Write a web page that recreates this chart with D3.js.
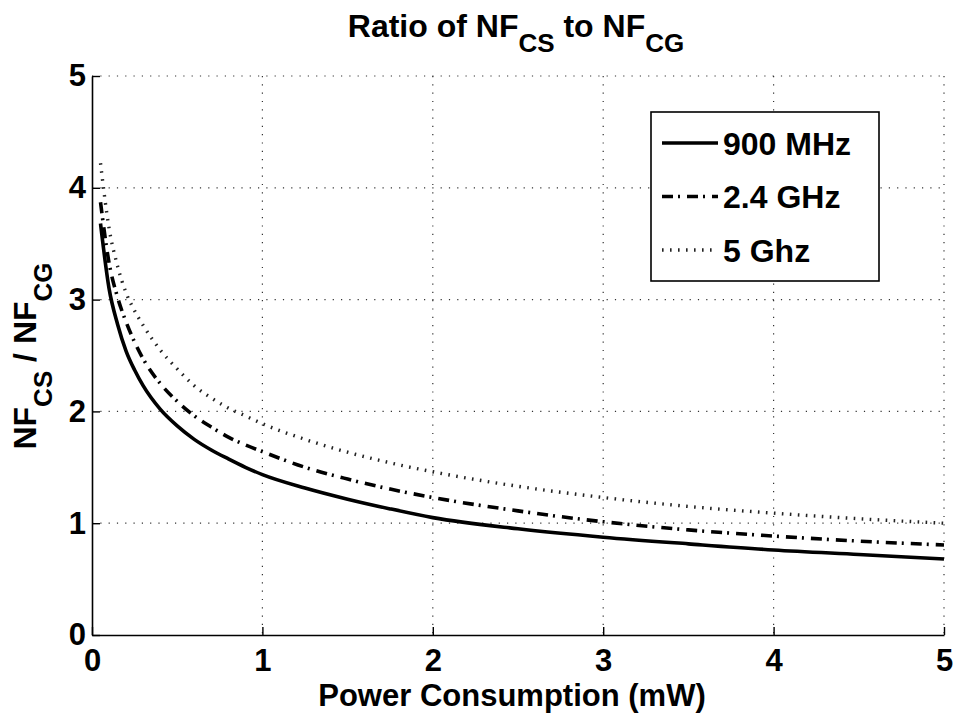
<!DOCTYPE html>
<html>
<head>
<meta charset="utf-8">
<script src="https://cdn.jsdelivr.net/npm/d3@7"></script>
<style>
  body { margin: 0; background: #fff; }
  svg text { font-family: "Liberation Sans", Arial, Helvetica, sans-serif; font-weight: bold; fill: #000; }
</style>
</head>
<body>
<div id="card"></div>
<script>
// power consumption (mW)
const powerValues = [0.05, 0.1, 0.15, 0.2, 0.25, 0.3, 0.4, 0.5, 0.6, 0.7, 0.8, 0.9, 1, 1.25, 1.5, 1.75, 2, 2.5, 3, 3.5, 4, 4.5, 5];
// NF_CS / NF_CG
const ratio900MHz = [3.68, 3.10, 2.78, 2.54, 2.37, 2.23, 2.02, 1.87, 1.75, 1.655, 1.575, 1.50, 1.435, 1.315, 1.215, 1.128, 1.05, 0.95, 0.875, 0.815, 0.76, 0.72, 0.68];
const ratio24GHz = [3.87, 3.33, 3.02, 2.80, 2.62, 2.47, 2.25, 2.09, 1.96, 1.86, 1.77, 1.70, 1.64, 1.50, 1.395, 1.305, 1.23, 1.11, 1.013, 0.94, 0.885, 0.84, 0.805];
const ratio5GHz = [4.22, 3.64, 3.30, 3.06, 2.90, 2.77, 2.55, 2.38, 2.23, 2.12, 2.03, 1.96, 1.89, 1.75, 1.635, 1.54, 1.46, 1.33, 1.23, 1.15, 1.09, 1.04, 1.00];
const seriesNames = ["900 MHz", "2.4 GHz", "5 Ghz"];
const xTicks = [0, 1, 2, 3, 4, 5];
const yTicks = [0, 1, 2, 3, 4, 5];

const w = 957;
const h = 713;
const margin = { top: 76, left: 92, right: 13, bottom: 78 };
const width = w - margin.left - margin.right;
const height = h - margin.top - margin.bottom;

const svg = d3.select("#card")
  .append("svg")
    .attr("width", w)
    .attr("height", h);

const chart = svg.append("g")
  .attr("transform", "translate(" + margin.left + "," + margin.top + ")");

const x = d3.scaleLinear().domain([0, 5]).range([0, width]);
const y = d3.scaleLinear().domain([0, 5]).range([height, 0]);

//dotted grid, including top and right edge
chart.append("g")
  .selectAll("line")
  .data(xTicks.slice(1))
  .enter().append("line")
    .attr("x1", d => x(d)).attr("x2", d => x(d))
    .attr("y1", 0).attr("y2", height)
    .attr("stroke", "#333").attr("stroke-width", 1.2)
    .attr("stroke-dasharray", "1.2,7.1");

chart.append("g")
  .selectAll("line")
  .data(yTicks.slice(1))
  .enter().append("line")
    .attr("x1", 0).attr("x2", width)
    .attr("y1", d => y(d)).attr("y2", d => y(d))
    .attr("stroke", "#333").attr("stroke-width", 1.2)
    .attr("stroke-dasharray", "1.2,7.1");

//axes with inward ticks
const xAxis = d3.axisBottom(x).tickValues(xTicks).tickFormat(d3.format("d"))
  .tickSizeInner(-8).tickSizeOuter(0).tickPadding(14);
const yAxis = d3.axisLeft(y).tickValues(yTicks).tickFormat(d3.format("d"))
  .tickSizeInner(-8).tickSizeOuter(0).tickPadding(6);

const gx = chart.append("g")
  .attr("transform", "translate(0," + height + ")")
  .call(xAxis);
const gy = chart.append("g").call(yAxis);

[gx, gy].forEach(g => {
  g.select(".domain").attr("stroke", "#000").attr("stroke-width", 1.6);
  g.selectAll(".tick line").attr("stroke", "#000").attr("stroke-width", 1.4);
  g.selectAll("text").style("font-size", "31px").attr("fill", "#000");
});

//lines
const styles = [
  { dash: null, width: 3.6, color: "#000" },
  { dash: "11,5,2,7", width: 3.6, color: "#000" },
  { dash: "1.6,6.4", width: 3.4, color: "#222" }
];
const allSeries = [ratio900MHz, ratio24GHz, ratio5GHz].map(vals => vals.map((v, i) => [powerValues[i], v]));

const line = d3.line()
  .x(d => x(d[0]))
  .y(d => y(d[1]))
  .curve(d3.curveMonotoneX);

chart.selectAll(".trendline")
  .data(allSeries)
  .enter().append("path")
    .classed("trendline", true)
    .attr("d", d => line(d))
    .attr("fill", "none")
    .attr("stroke", (d, i) => styles[i].color)
    .attr("stroke-width", (d, i) => styles[i].width)
    .attr("stroke-dasharray", (d, i) => styles[i].dash)
    .attr("stroke-linejoin", "round");

//legend
const legend = svg.append("g").attr("transform", "translate(651,112)");
legend.append("rect")
  .attr("width", 228).attr("height", 169)
  .attr("fill", "#fff").attr("stroke", "#000").attr("stroke-width", 1.6);

const rows = legend.selectAll(".row")
  .data(seriesNames)
  .enter().append("g")
    .attr("transform", (d, i) => "translate(0," + (31 + i * 53.5) + ")");

rows.append("line")
  .attr("x1", 11).attr("x2", 67)
  .attr("stroke", (d, i) => styles[i].color)
  .attr("stroke-width", (d, i) => styles[i].width)
  .attr("stroke-dasharray", (d, i) => styles[i].dash);

rows.append("text")
  .attr("x", 72).attr("y", 11.5)
  .style("font-size", "32px")
  .text(d => d);

//text with subscripts
function subText(sel, parts, size, subSize, subDrop) {
  parts.forEach(p => {
    if (p.sub) {
      sel.append("tspan").attr("dy", subDrop).style("font-size", subSize + "px").text(p.t);
    } else {
      sel.append("tspan").attr("dy", p.after ? -subDrop : 0).style("font-size", size + "px").text(p.t);
    }
  });
}

const title = svg.append("text")
  .attr("x", 516).attr("y", 37)
  .attr("text-anchor", "middle");
subText(title, [
  { t: "Ratio of NF" }, { t: "CS", sub: true }, { t: " to NF", after: true }, { t: "CG", sub: true }
], 32, 26, 15);

//axis labels
svg.append("text")
  .attr("x", 512).attr("y", 706)
  .attr("text-anchor", "middle")
  .style("font-size", "31px")
  .text("Power Consumption (mW)");

const ylab = svg.append("text")
  .attr("transform", "translate(36,356) rotate(-90)")
  .attr("text-anchor", "middle");
subText(ylab, [
  { t: "NF" }, { t: "CS", sub: true }, { t: " / NF", after: true }, { t: "CG", sub: true }
], 32, 26, 16);
</script>
</body>
</html>
